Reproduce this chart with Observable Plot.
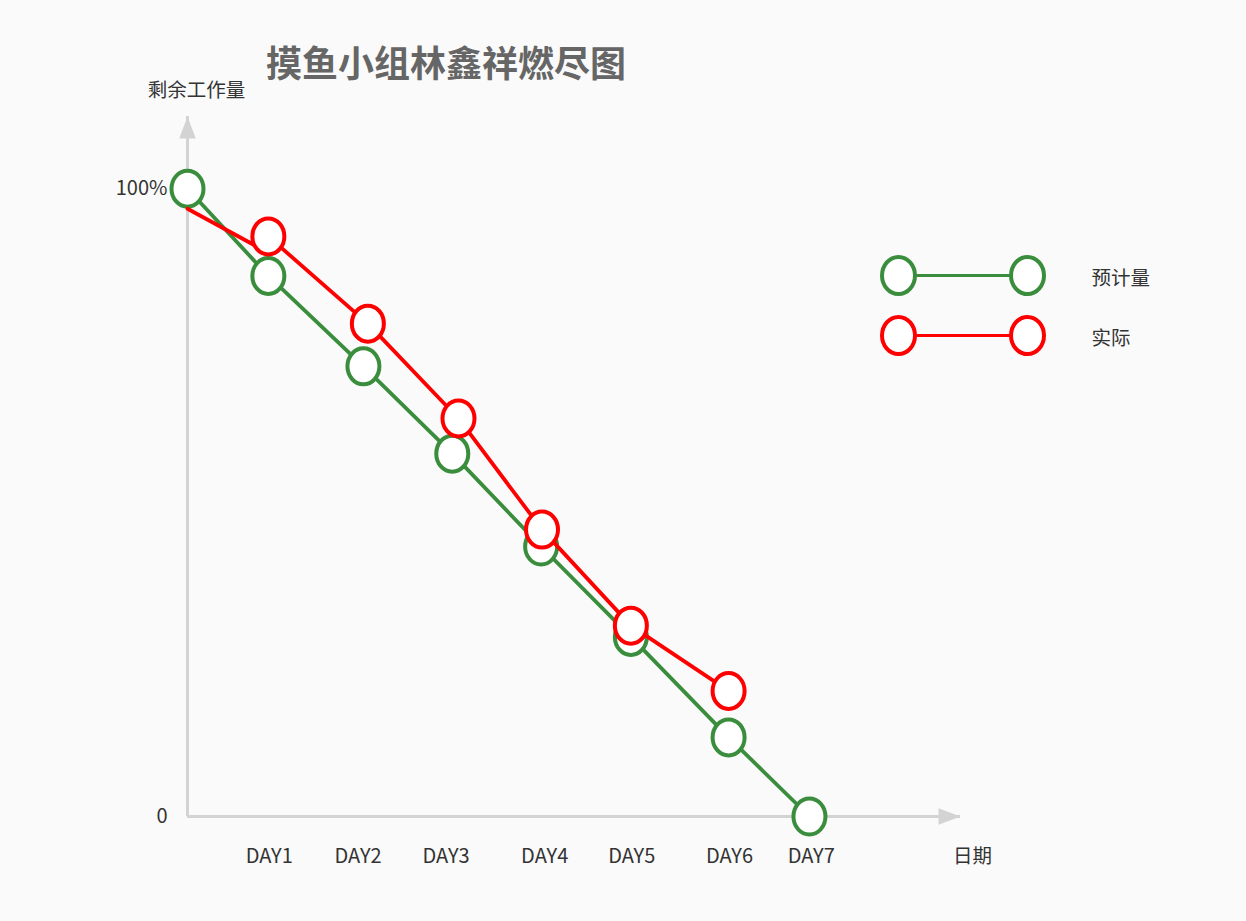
<!DOCTYPE html>
<html>
<head>
<meta charset="utf-8">
<script src="https://cdn.jsdelivr.net/npm/d3@7"></script>
<script src="https://cdn.jsdelivr.net/npm/@observablehq/plot@0.6"></script>
<style>
  html, body { margin: 0; padding: 0; background: #fafafa; }
  #wrap { position: relative; width: 1246px; height: 921px; font-family: "Noto Sans CJK SC", "Noto Sans", sans-serif; }
  #title { position: absolute; left: 0; width: 892px; top: 36px; line-height: 50px; text-align: center;
           font-size: 36px; font-weight: bold; color: #666; }
  #chart { position: absolute; left: 0; top: 0; }
  #legend { position: absolute; left: 860px; top: 240px; }
</style>
</head>
<body>
<div id="wrap">
  <div id="chart"></div>
  <div id="title">摸鱼小组林鑫祥燃尽图</div>
  <div id="legend"></div>
</div>
<script>
// ---- data ----
const titleText = "摸鱼小组林鑫祥燃尽图";
const yAxisTitle = "剩余工作量";
const xAxisTitle = "日期";
const seriesNames = ["预计量", "实际"];
const seriesColors = ["#3a8d3c", "#ff0000"];

const dayLabels = ["DAY1", "DAY2", "DAY3", "DAY4", "DAY5", "DAY6", "DAY7"];
const dayTickPos = [0.92, 1.92, 2.91, 4.02, 5.0, 6.1, 7.02];

const plannedX = [0, 0.91, 1.98, 2.98, 3.98, 4.99, 6.09, 7.0];
const plannedY = [100, 86.1, 71.7, 57.8, 43.0, 28.6, 12.6, 0];

const actualX = [0, 0.91, 0.91, 2.03, 3.05, 3.99, 4.99, 6.09];
const actualY = [96.8, 89.8, 92.4, 78.5, 63.4, 45.7, 30.4, 20.0];
const actualMarker = [false, false, true, true, true, true, true, true];

const yTicks = [0, 100];
const yTickLabels = ["0", "100%"];

const xMax = 8.7;
const yMax = 111.5;

// ---- build tables ----
const planned = plannedX.map((x, i) => ({x, y: plannedY[i]}));
const actual = actualX.map((x, i) => ({x, y: actualY[i], marker: actualMarker[i]}));

// ellipse-shaped symbol (slightly taller than wide)
const ellipse = {
  draw(ctx, size) {
    const r = Math.sqrt(size / Math.PI);
    const rx = r, ry = r * 1.125, k = 0.5523;
    ctx.moveTo(rx, 0);
    ctx.bezierCurveTo(rx, k * ry, k * rx, ry, 0, ry);
    ctx.bezierCurveTo(-k * rx, ry, -rx, k * ry, -rx, 0);
    ctx.bezierCurveTo(-rx, -k * ry, -k * rx, -ry, 0, -ry);
    ctx.bezierCurveTo(k * rx, -ry, rx, -k * ry, rx, 0);
    ctx.closePath();
  }
};
// arrow head with its tip at the anchor, pointing up
const arrowHead = {
  draw(ctx) {
    ctx.moveTo(0, 0);
    ctx.lineTo(8.3, 22);
    ctx.lineTo(-8.3, 22);
    ctx.closePath();
  }
};

const axisColor = "#d3d3d3";
const textColor = "#333";

const chart = Plot.plot({
  width: 1246,
  height: 921,
  marginLeft: 187,
  marginRight: 286,
  marginTop: 116,
  marginBottom: 105,
  style: {background: "transparent", fontFamily: '"Noto Sans CJK SC", "Noto Sans", sans-serif', fontSize: "20px", overflow: "visible"},
  x: {domain: [0, xMax]},
  y: {domain: [0, yMax]},
  marks: [
    Plot.ruleX([0], {y1: 0, y2: yMax, stroke: axisColor, strokeWidth: 3}),
    Plot.ruleY([0], {x1: 0, x2: xMax, stroke: axisColor, strokeWidth: 3}),
    Plot.dot([0], {x: 0, y: yMax, symbol: arrowHead, r: 10, fill: axisColor, stroke: "none"}),
    Plot.dot([0], {x: xMax, y: 0, symbol: arrowHead, r: 10, rotate: 90, fill: axisColor, stroke: "none"}),
    Plot.axisY(yTicks, {tickSize: 0, tickPadding: 20, label: null, fill: textColor, fontSize: 20,
      tickFormat: d => yTickLabels[yTicks.indexOf(d)]}),
    Plot.axisX(dayTickPos, {tickSize: 0, tickPadding: 32, label: null, fill: textColor, fontSize: 20,
      tickFormat: d => dayLabels[dayTickPos.indexOf(d)]}),
    Plot.text([yAxisTitle], {x: 0, y: yMax, text: d => d, dx: 9, dy: -26, fill: textColor, fontSize: 19.5}),
    Plot.text([xAxisTitle], {x: xMax, y: 0, text: d => d, dx: 12, dy: 40, fill: textColor, fontSize: 19.5}),
    Plot.line(planned, {x: "x", y: "y", stroke: seriesColors[0], strokeWidth: 3.8, strokeLinejoin: "round"}),
    Plot.dot(planned, {x: "x", y: "y", symbol: ellipse, r: 16, fill: "white", stroke: seriesColors[0], strokeWidth: 4}),
    Plot.line(actual, {x: "x", y: "y", stroke: seriesColors[1], strokeWidth: 3.8, strokeLinejoin: "round"}),
    Plot.dot(actual.filter(d => d.marker), {x: "x", y: "y", symbol: ellipse, r: 16, fill: "white", stroke: seriesColors[1], strokeWidth: 4})
  ]
});
document.getElementById("chart").append(chart);

// legend
const legendRows = seriesNames.map((name, i) => ({name, color: seriesColors[i]}));
const legendEnds = legendRows.flatMap(d => [{...d, x: 0}, {...d, x: 1}]);
const legend = Plot.plot({
  width: 320,
  height: 130,
  margin: 0,
  style: {background: "transparent", fontFamily: '"Noto Sans CJK SC", "Noto Sans", sans-serif', overflow: "visible"},
  x: {domain: [0, 1], range: [38, 167], axis: null},
  y: {type: "point", domain: seriesNames, range: [35, 95], padding: 0, axis: null},
  color: {type: "identity"},
  marks: [
    Plot.ruleY(legendRows, {y: "name", x1: 0, x2: 1, stroke: "color", strokeWidth: 3}),
    Plot.dot(legendEnds, {x: "x", y: "name", symbol: ellipse, r: 16.5, fill: "white", stroke: "color", strokeWidth: 4}),
    Plot.text(legendRows, {x: 1, y: "name", text: "name", dx: 64, dy: 3, textAnchor: "start", fill: textColor, fontSize: 19.5})
  ]
});
document.getElementById("legend").append(legend);
</script>
</body>
</html>
